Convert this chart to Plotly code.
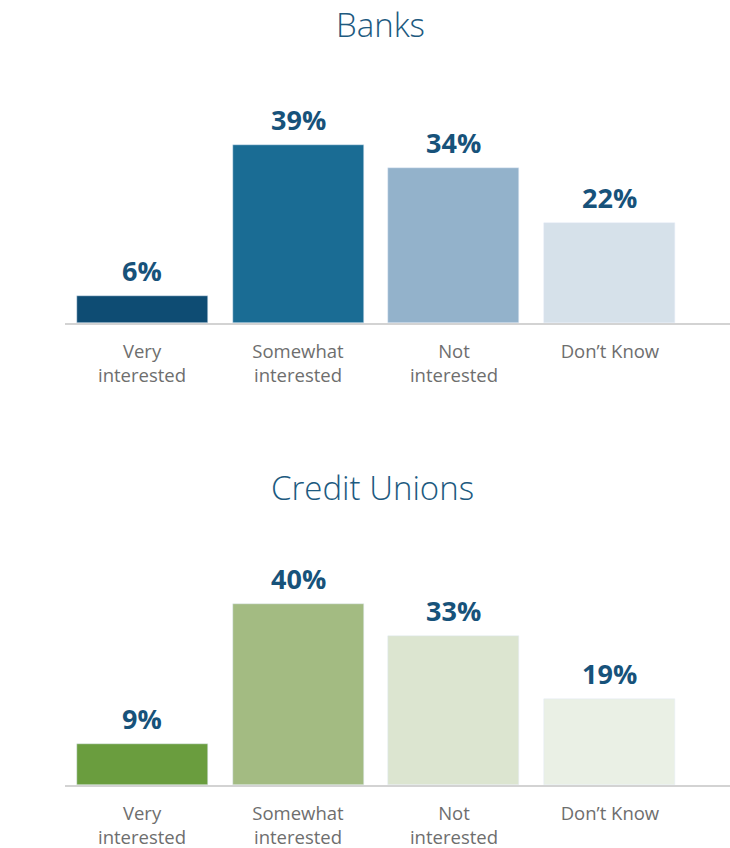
import plotly.graph_objects as go

categories = ["Very<br>interested", "Somewhat<br>interested", "Not<br>interested", "Don\u2019t Know"]
banks_values = [6, 39, 34, 22]
cu_values = [9, 40, 33, 19]
banks_colors = ["#0E4C73", "#1A6C94", "#93B2CB", "#D6E1EA"]
cu_colors = ["#6A9D3E", "#A3BB82", "#DCE5D0", "#EAF0E5"]
titles = ["Banks", "Credit Unions"]

W, H = 730, 848
LABEL_COLOR = "#17527A"
TICK_COLOR = "#6E6E6E"
FONT = "Open Sans"

fig = go.Figure()

fig.add_trace(go.Bar(x=categories, y=banks_values, marker_color=banks_colors,
                     width=0.84, xaxis="x", yaxis="y", hoverinfo="skip"))
fig.add_trace(go.Bar(x=categories, y=cu_values, marker_color=cu_colors,
                     width=0.84, xaxis="x2", yaxis="y2", hoverinfo="skip"))

# value labels above each bar
for vals, yref, xref in [(banks_values, "y", "x"), (cu_values, "y2", "x2")]:
    for c, v in zip(categories, vals):
        fig.add_annotation(x=c, y=v, xref=xref, yref=yref, text=f"<b>{v}%</b>",
                           showarrow=False, yanchor="bottom", yshift=5,
                           font=dict(family=FONT, size=27, color=LABEL_COLOR))

# panel titles
fig.add_annotation(x=380 / W, y=1 - 25 / H, xref="paper", yref="paper", text=titles[0],
                   showarrow=False, xanchor="center", yanchor="middle",
                   font=dict(family=FONT, size=33, color="#1D5A80", weight=300))
fig.add_annotation(x=373 / W, y=1 - 487 / H, xref="paper", yref="paper", text=titles[1],
                   showarrow=False, xanchor="center", yanchor="middle",
                   font=dict(family=FONT, size=33, color="#1D5A80", weight=300))

xaxis_common = dict(
    type="category", range=[-0.494, 3.77], domain=[65 / W, 1], automargin=False,
    showline=True, linecolor="#D3D3D3", linewidth=2, showgrid=False, zeroline=False,
    ticks="", ticklabelstandoff=11,
    tickfont=dict(family=FONT, size=18.5, color=TICK_COLOR), fixedrange=True,
)
yaxis_common = dict(visible=False, showgrid=False, zeroline=False, fixedrange=True,
                    automargin=False)

fig.update_layout(
    width=W, height=H, margin=dict(l=0, r=0, t=0, b=0, autoexpand=False),
    paper_bgcolor="white", plot_bgcolor="white", showlegend=False, bargap=0,
    xaxis=dict(**xaxis_common, anchor="y"),
    yaxis=dict(**yaxis_common, range=[0, 48.9], domain=[(H - 323) / H, (H - 100) / H]),
    xaxis2=dict(**xaxis_common, anchor="y2"),
    yaxis2=dict(**yaxis_common, range=[0, 49.8], domain=[(H - 785) / H, (H - 560) / H]),
)

fig.write_html("out.html")
